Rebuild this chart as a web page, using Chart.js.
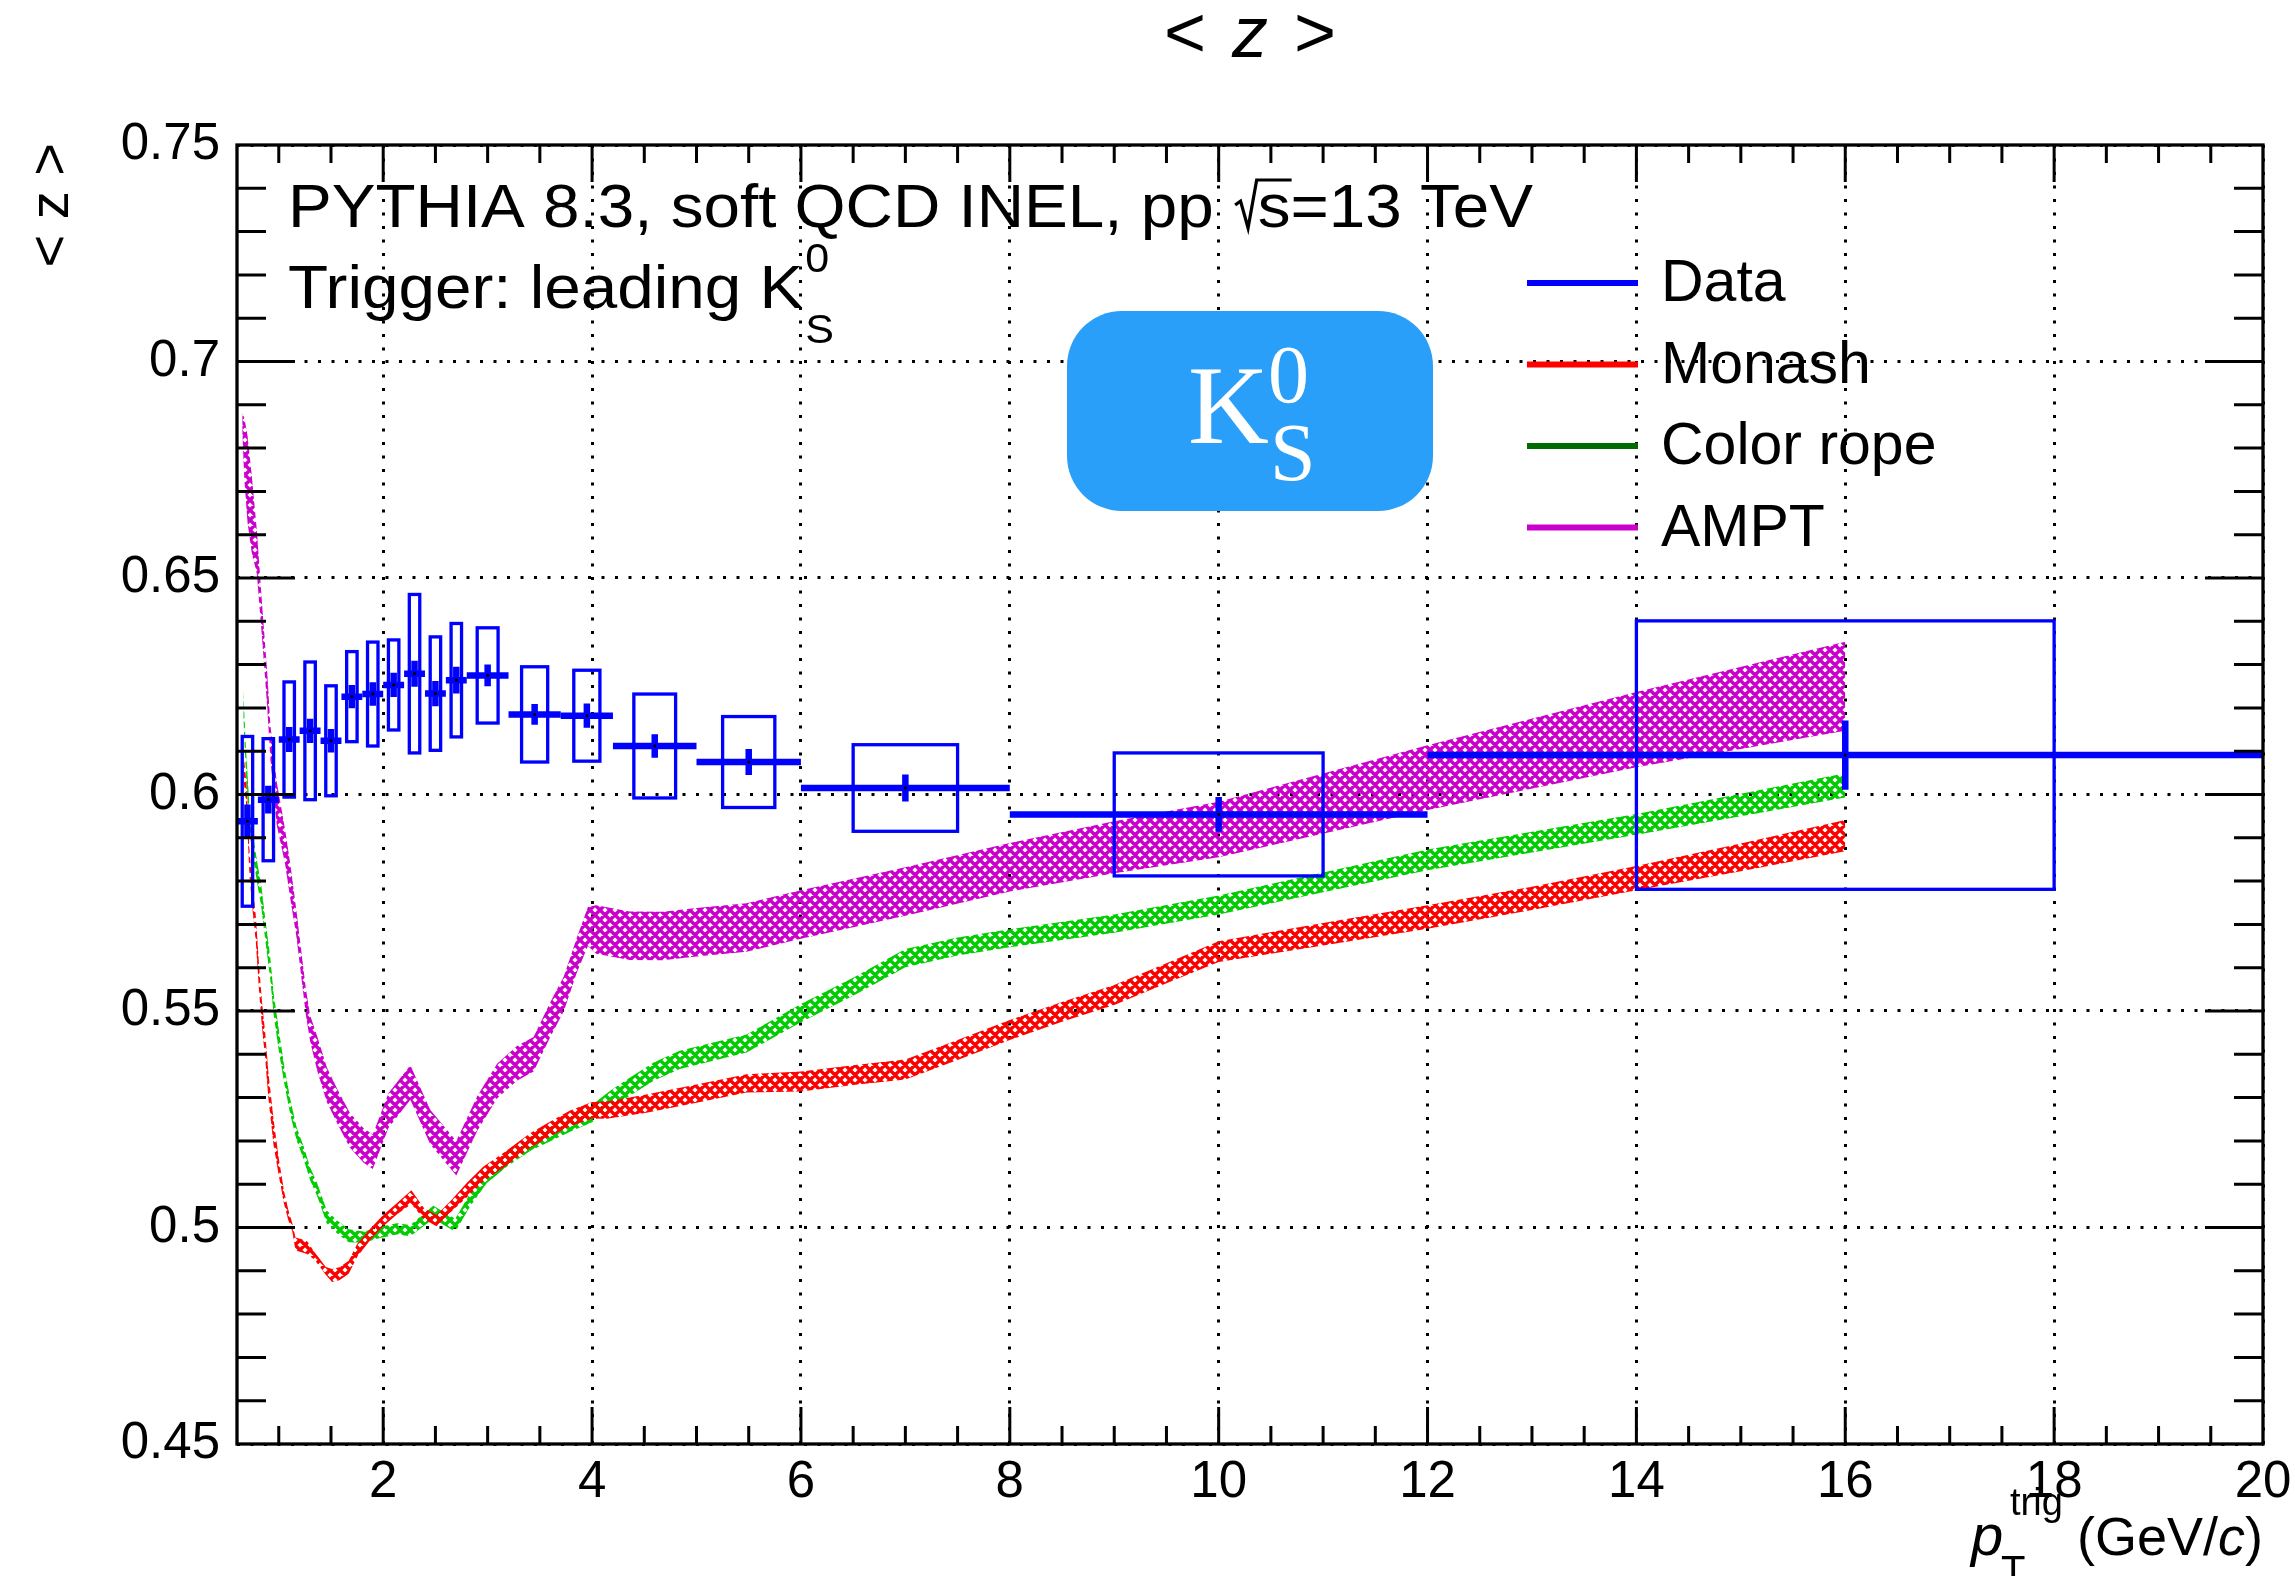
<!DOCTYPE html>
<html>
<head>
<meta charset="utf-8">
<script src="https://cdn.jsdelivr.net/npm/chart.js@4.4.1/dist/chart.umd.min.js"></script>
<style>
  html, body { margin: 0; padding: 0; background: #fff; }
  #wrap { width: 2295px; height: 1576px; }
</style>
</head>
<body>
<div id="wrap"><canvas id="zchart" width="2295" height="1576"></canvas></div>
<script>
// <z> vs trigger pT, leading K0S trigger

// measured points: bin centre, half bin width, mean, stat and syst errors
const ptCenter  = [0.7, 0.9, 1.1, 1.3, 1.5, 1.7, 1.9, 2.1, 2.3, 2.5, 2.7, 3.0, 3.45, 3.95, 4.6, 5.5, 7.0, 10.0, 16.0];
const ptHalfBin = [0.1, 0.1, 0.1, 0.1, 0.1, 0.1, 0.1, 0.1, 0.1, 0.1, 0.1, 0.2, 0.25, 0.25, 0.4, 0.5, 1.0, 2.0, 4.0];
const zMean = [0.5938, 0.5988, 0.6127, 0.6147, 0.6124, 0.6226, 0.6232, 0.6253, 0.6279, 0.6233,
               0.6264, 0.6275, 0.6185, 0.6182, 0.6112, 0.6075, 0.6015, 0.5954, 0.6091];
const zStat = [0.0039, 0.0032, 0.0029, 0.0028, 0.0027, 0.0027, 0.0027, 0.0028, 0.0030, 0.0029,
               0.0031, 0.0025, 0.0024, 0.0028, 0.0027, 0.0030, 0.0031, 0.0040, 0.0080];
const zSyst = [0.0196, 0.0141, 0.0133, 0.0159, 0.0127, 0.0104, 0.0120, 0.0104, 0.0183, 0.0131,
               0.0131, 0.0110, 0.0110, 0.0105, 0.0120, 0.0105, 0.0100, 0.0142, 0.0310];

// PYTHIA Monash
const monashPt = [0.66, 0.69, 0.72, 0.75, 0.78, 0.81, 0.84, 0.87, 0.90, 0.95, 1.00, 1.05, 1.09, 1.13, 1.16,
                  1.22, 1.27, 1.34, 1.40, 1.45, 1.51, 1.58, 1.67, 1.75, 1.88, 2.00, 2.13, 2.27, 2.39, 2.51,
                  2.64, 2.80, 2.96, 3.15, 3.41, 3.60, 3.79, 4.00, 4.14, 4.52, 5.00, 5.48, 6.0, 6.5, 7.0,
                  7.5, 8.0, 8.5, 9.0, 9.5, 10.0, 11.0, 12.0, 13.0, 14.0, 15.0, 16.0];
const monashZ  = [0.607, 0.600, 0.584, 0.576, 0.569, 0.558, 0.549, 0.542, 0.533, 0.522, 0.514, 0.507, 0.503, 0.500, 0.4962,
                  0.4958, 0.4954, 0.4935, 0.4916, 0.4900, 0.4889, 0.4893, 0.4908, 0.4947, 0.4985, 0.5016, 0.5043, 0.5070, 0.5032, 0.5016,
                  0.5047, 0.5086, 0.5124, 0.5155, 0.5201, 0.5228, 0.5252, 0.5271, 0.5271, 0.5286, 0.5309, 0.5333, 0.5337, 0.5352, 0.5365,
                  0.5410, 0.5456, 0.5498, 0.5537, 0.5587, 0.5637, 0.5677, 0.5717, 0.5760, 0.5807, 0.5855, 0.5905];
const monashErr = [0.0030, 0.0030, 0.0030, 0.0030, 0.0030, 0.0030, 0.0030, 0.0030, 0.0030, 0.0030, 0.0020, 0.0015, 0.0012, 0.0010, 0.0015,
                   0.0015, 0.0015, 0.0009, 0.0009, 0.0009, 0.0015, 0.0015, 0.0015, 0.0015, 0.0013, 0.0013, 0.0013, 0.0016, 0.0013, 0.0013,
                   0.0013, 0.0017, 0.0017, 0.0017, 0.0017, 0.0017, 0.0018, 0.0019, 0.0020, 0.0021, 0.0021, 0.0021, 0.0023, 0.0023, 0.0023,
                   0.0023, 0.0023, 0.0023, 0.0023, 0.0023, 0.0024, 0.0026, 0.0027, 0.0027, 0.0028, 0.0032, 0.0036];

// PYTHIA color ropes
const ropePt = [0.66, 0.685, 0.72, 0.76, 0.80, 0.83, 0.87, 0.92, 0.95, 1.00, 1.05, 1.11, 1.17, 1.24, 1.30, 1.37, 1.46,
                1.56, 1.67, 1.81, 1.97, 2.13, 2.26, 2.48, 2.69, 2.83, 2.99, 3.18, 3.41, 3.60, 3.79, 4.00, 4.17,
                4.36, 4.59, 4.84, 5.16, 5.48, 6.0, 6.5, 7.0, 7.5, 8.0, 9.0, 10.0, 11.0, 12.0, 13.0, 14.0, 15.0, 16.0];
const ropeZ  = [0.621, 0.608, 0.594, 0.587, 0.581, 0.577, 0.569, 0.5595, 0.5518, 0.5433, 0.5356, 0.5279, 0.5217, 0.5171, 0.5124, 0.5086, 0.5024,
                0.5001, 0.4981, 0.4978, 0.4989, 0.4997, 0.4993, 0.5035, 0.5005, 0.5063, 0.5117, 0.5155, 0.5194, 0.5217, 0.5240, 0.5263, 0.5294,
                0.5325, 0.5360, 0.5387, 0.5406, 0.5425, 0.5495, 0.5556, 0.5622, 0.5649, 0.5668, 0.5702, 0.5745, 0.5797, 0.5849, 0.5890, 0.5931, 0.5976, 0.6021];
const ropeErr = [0.0030, 0.0030, 0.0030, 0.0025, 0.0025, 0.0025, 0.0025, 0.0025, 0.0025, 0.0025, 0.0020, 0.0018, 0.0015, 0.0015, 0.0015, 0.0015, 0.0015,
                 0.0015, 0.0015, 0.0013, 0.0013, 0.0013, 0.0013, 0.0015, 0.0015, 0.0015, 0.0015, 0.0015, 0.0017, 0.0018, 0.0019, 0.0020, 0.0021,
                 0.0021, 0.0021, 0.0021, 0.0021, 0.0021, 0.0021, 0.0021, 0.0021, 0.0021, 0.0021, 0.0021, 0.0022, 0.0023, 0.0024, 0.0024, 0.0024, 0.0026, 0.0028];

// AMPT
const amptPt = [0.65, 0.67, 0.70, 0.74, 0.79, 0.84, 0.89, 0.92, 0.98, 1.06, 1.11, 1.17, 1.22, 1.26, 1.30, 1.37,
                1.46, 1.56, 1.68, 1.81, 1.90, 2.05, 2.26, 2.45, 2.70, 2.90, 3.09, 3.28, 3.44, 3.60, 3.73,
                3.85, 3.96, 4.04, 4.36, 4.68, 5.00, 5.48, 6.0, 7.0, 8.0, 9.0, 10.0, 12.0, 14.0, 16.0];
const amptZ  = [0.686, 0.680, 0.673, 0.665, 0.656, 0.640, 0.624, 0.612, 0.598, 0.588, 0.580, 0.570, 0.560, 0.552, 0.546, 0.540,
                0.533, 0.528, 0.5225, 0.519, 0.5175, 0.527, 0.5335, 0.5232, 0.516, 0.5263, 0.5338, 0.5379, 0.540, 0.548, 0.554,
                0.5626, 0.5695, 0.5688, 0.5674, 0.5673, 0.5682, 0.5693, 0.5723, 0.5776, 0.5832, 0.5878, 0.5919, 0.6039, 0.615, 0.625];
const amptErr = [0.002, 0.007, 0.010, 0.009, 0.005, 0.004, 0.004, 0.004, 0.005, 0.004, 0.004, 0.003, 0.003, 0.003, 0.003, 0.004,
                 0.004, 0.004, 0.004, 0.004, 0.004, 0.004, 0.004, 0.004, 0.004, 0.004, 0.004, 0.004, 0.004, 0.004, 0.004,
                 0.004, 0.0045, 0.0056, 0.0056, 0.0056, 0.0056, 0.0056, 0.0056, 0.0056, 0.0056, 0.006, 0.0064, 0.0075, 0.0087, 0.0103];

// axes
const xTicks = [2, 4, 6, 8, 10, 12, 14, 16, 18, 20];
const xTickLabels = ['2', '4', '6', '8', '10', '12', '14', '16', '18', '20'];
const yTicks = [0.45, 0.5, 0.55, 0.6, 0.65, 0.7, 0.75];
const yTickLabels = ['0.45', '0.5', '0.55', '0.6', '0.65', '0.7', '0.75'];

const legendNames = ['Data', 'Monash', 'Color rope', 'AMPT'];
const legendColors = ['#0000ff', '#ff0000', '#006b00', '#cc00cc'];

const SANS = '"Liberation Sans", Arial, sans-serif';
const SERIF = '"Liberation Serif", "Times New Roman", serif';

// ROOT-like cross hatch
function hatch(color) {
  const s = 10;
  const c = document.createElement('canvas');
  c.width = s; c.height = s;
  const g = c.getContext('2d');
  g.strokeStyle = color;
  g.lineWidth = 3.4;
  g.beginPath();
  for (let k = -1; k <= 1; k++) {
    g.moveTo(k * s, 0); g.lineTo(k * s + s, s);
    g.moveTo(k * s + s, 0); g.lineTo(k * s, s);
  }
  g.stroke();
  return g.createPattern(c, 'repeat');
}

function edge(pts, z, err, sign) {
  return pts.map((x, i) => ({ x, y: z[i] + sign * err[i] }));
}

function bandSets(name, pts, z, err, color) {
  const pat = hatch(color);
  const common = { pointRadius: 0, borderWidth: 0, borderColor: 'rgba(0,0,0,0)', backgroundColor: pat, tension: 0 };
  return [
    Object.assign({ label: name + ' up', data: edge(pts, z, err, 1), fill: false }, common),
    Object.assign({ label: name + ' low', data: edge(pts, z, err, -1), fill: '-1' }, common),
  ];
}

const datasets = [
  {
    label: 'Data',
    data: ptCenter.map((x, i) => ({ x, y: zMean[i] })),
    showLine: false,
    pointStyle: 'rect',
    pointRadius: 2,
    backgroundColor: '#000',
    borderWidth: 0,
  },
  ...bandSets('Monash', monashPt, monashZ, monashErr, '#ff0000'),
  ...bandSets('Color rope', ropePt, ropeZ, ropeErr, '#00cc00'),
  ...bandSets('AMPT', amptPt, amptZ, amptErr, '#cc00cc'),
];

// data: syst boxes (half the bin wide), bin width and stat bars
const dataErrors = {
  id: 'dataErrors',
  beforeDatasetDraw(chart, args) {
    if (args.index !== 0) return;
    const { ctx, scales: { x, y } } = chart;
    ctx.save();
    ctx.strokeStyle = '#0000ff';
    ptCenter.forEach((pt, i) => {
      const hw = ptHalfBin[i];
      const z = zMean[i];
      const bx0 = x.getPixelForValue(pt - hw / 2), bx1 = x.getPixelForValue(pt + hw / 2);
      const by0 = y.getPixelForValue(z + zSyst[i]), by1 = y.getPixelForValue(z - zSyst[i]);
      ctx.lineWidth = 3.3;
      ctx.strokeRect(bx0, by0, bx1 - bx0, by1 - by0);
      ctx.lineWidth = 6.5;
      ctx.beginPath();
      ctx.moveTo(x.getPixelForValue(pt - hw), y.getPixelForValue(z));
      ctx.lineTo(x.getPixelForValue(pt + hw), y.getPixelForValue(z));
      ctx.moveTo(x.getPixelForValue(pt), y.getPixelForValue(z + zStat[i]));
      ctx.lineTo(x.getPixelForValue(pt), y.getPixelForValue(z - zStat[i]));
      ctx.stroke();
    });
    ctx.restore();
  },
};

// frame with inward ticks on all four sides
const frame = {
  id: 'frame',
  afterDatasetsDraw(chart) {
    const { ctx, chartArea: a, scales: { x, y } } = chart;
    ctx.save();
    ctx.strokeStyle = '#000';
    ctx.lineWidth = 3;
    ctx.beginPath();
    for (let v = 1.0; v < 20; v += 0.5) {
      const px = x.getPixelForValue(v);
      const len = v % 2 === 0 ? 37 : 18;
      ctx.moveTo(px, a.bottom); ctx.lineTo(px, a.bottom - len);
      ctx.moveTo(px, a.top); ctx.lineTo(px, a.top + len);
    }
    for (let k = 46; k < 75; k++) {
      const py = y.getPixelForValue(k / 100);
      const len = k % 5 === 0 ? 58 : 29;
      ctx.moveTo(a.left, py); ctx.lineTo(a.left + len, py);
      ctx.moveTo(a.right, py); ctx.lineTo(a.right - len, py);
    }
    ctx.stroke();
    ctx.lineWidth = 3.3;
    ctx.strokeRect(a.left, a.top, a.right - a.left, a.bottom - a.top);
    ctx.restore();
  },
};

// write a run of text pieces; returns the end x
function runText(ctx, parts, x, y) {
  parts.forEach(p => {
    ctx.font = p.font;
    ctx.fillText(p.t, x + (p.dx || 0), y + (p.dy || 0));
    x += ctx.measureText(p.t).width + (p.dx || 0);
  });
  return x;
}
function runWidth(ctx, parts) {
  let w = 0;
  parts.forEach(p => { ctx.font = p.font; w += ctx.measureText(p.t).width + (p.dx || 0); });
  return w;
}

const labels = {
  id: 'labels',
  afterDraw(chart) {
    const { ctx, chartArea: a } = chart;
    ctx.save();
    ctx.fillStyle = '#000';
    ctx.textBaseline = 'alphabetic';
    ctx.textAlign = 'left';

    // title
    const title = [
      { t: '<', font: `72px ${SANS}` },
      { t: ' ', font: `72px ${SANS}`, dx: 6 },
      { t: 'z', font: `italic 72px ${SANS}` },
      { t: ' ', font: `72px ${SANS}`, dx: 6 },
      { t: '>', font: `72px ${SANS}` },
    ];
    const tw = runWidth(ctx, title);
    runText(ctx, title, (a.left + a.right) / 2 - tw / 2, 57);

    // y axis title, rotated, flush with the top of the axis
    const ytitle = [
      { t: '<', font: `56px ${SANS}` },
      { t: ' ', font: `56px ${SANS}` },
      { t: 'z', font: `56px ${SANS}` },
      { t: ' ', font: `56px ${SANS}` },
      { t: '>', font: `56px ${SANS}` },
    ];
    const yw = runWidth(ctx, ytitle);
    ctx.save();
    ctx.translate(68, 143);
    ctx.rotate(-Math.PI / 2);
    runText(ctx, ytitle, -yw, 0);
    ctx.restore();

    // x axis title, right aligned
    const xright = [
      { t: '(GeV/', font: `54px ${SANS}` },
      { t: 'c', font: `italic 54px ${SANS}` },
      { t: ')', font: `54px ${SANS}` },
    ];
    const xw = runWidth(ctx, xright);
    runText(ctx, xright, a.right - xw, 1555);
    ctx.font = `italic 58px ${SANS}`;
    ctx.fillText('p', 1971, 1555);
    ctx.font = `40px ${SANS}`;
    ctx.fillText('T', 2001, 1584);
    ctx.font = `38px ${SANS}`;
    ctx.fillText('trig', 2010, 1515);

    // generator and trigger
    ctx.save();
    ctx.translate(288, 0);
    ctx.scale(1.075, 1);
    ctx.font = `61px ${SANS}`;
    ctx.fillText('PYTHIA 8.3, soft QCD INEL, pp', 0, 227);
    const px = ctx.measureText('PYTHIA 8.3, soft QCD INEL, pp').width + 20;
    // radical sign over s
    const sw = ctx.measureText('s').width;
    ctx.lineWidth = 3;
    ctx.strokeStyle = '#000';
    ctx.beginPath();
    ctx.moveTo(px, 205);
    ctx.lineTo(px + 5, 201);
    ctx.lineTo(px + 12, 228);
    ctx.lineTo(px + 20, 180);
    ctx.lineTo(px + 22 + sw, 180);
    ctx.stroke();
    ctx.fillText('s=13 TeV', px + 21, 227);
    ctx.fillText('Trigger: leading K', 0, 308);
    const kw = ctx.measureText('Trigger: leading K').width;
    ctx.font = `40px ${SANS}`;
    ctx.fillText('0', kw + 2, 272);
    ctx.fillText('S', kw + 2, 343);
    ctx.restore();

    // particle badge
    ctx.fillStyle = '#2a9ff9';
    ctx.beginPath();
    ctx.roundRect(1067, 311, 366, 200, 55);
    ctx.fill();
    ctx.fillStyle = '#fff';
    ctx.font = `112px ${SERIF}`;
    ctx.fillText('K', 1188, 443);
    ctx.font = `82px ${SERIF}`;
    ctx.fillText('0', 1268, 402);
    ctx.fillText('S', 1270, 480);

    // legend
    legendNames.forEach((name, i) => {
      const ly = 283 + i * 81.5;
      ctx.strokeStyle = legendColors[i];
      ctx.lineWidth = 6;
      ctx.beginPath();
      ctx.moveTo(1527, ly);
      ctx.lineTo(1638, ly);
      ctx.stroke();
      ctx.fillStyle = '#000';
      ctx.font = `59px ${SANS}`;
      ctx.fillText(name, 1661, ly + 18);
    });
    ctx.restore();
  },
};

const tickFont = { family: '"Liberation Sans", Arial, sans-serif', size: 51 };

new Chart(document.getElementById('zchart'), {
  type: 'line',
  data: { datasets },
  options: {
    responsive: false,
    devicePixelRatio: 1,
    animation: false,
    events: [],
    layout: { padding: { left: 0, right: 32, top: 145, bottom: 0 } },
    plugins: {
      legend: { display: false },
      tooltip: { enabled: false },
      filler: { propagate: false },
    },
    scales: {
      x: {
        type: 'linear',
        min: 0.6,
        max: 20,
        afterBuildTicks: s => { s.ticks = xTicks.map(v => ({ value: v })); },
        afterFit: s => { s.height = 132; s.paddingLeft = 0; s.paddingRight = 0; },
        ticks: {
          callback: (v, i) => xTickLabels[i],
          font: tickFont,
          color: '#000',
          padding: 8,
          maxRotation: 0,
          autoSkip: false,
        },
        grid: { color: '#000', lineWidth: 3, drawTicks: false },
        border: { display: false, dash: [3, 10.5] },
      },
      y: {
        type: 'linear',
        min: 0.45,
        max: 0.75,
        afterBuildTicks: s => { s.ticks = yTicks.map(v => ({ value: v })); },
        afterFit: s => { s.width = 237; s.paddingTop = 0; s.paddingBottom = 0; },
        ticks: {
          callback: (v, i) => yTickLabels[i],
          font: tickFont,
          color: '#000',
          padding: 17,
        },
        grid: { color: '#000', lineWidth: 3, drawTicks: false },
        border: { display: false, dash: [3, 10.5] },
      },
    },
  },
  plugins: [dataErrors, frame, labels],
});
</script>
</body>
</html>
